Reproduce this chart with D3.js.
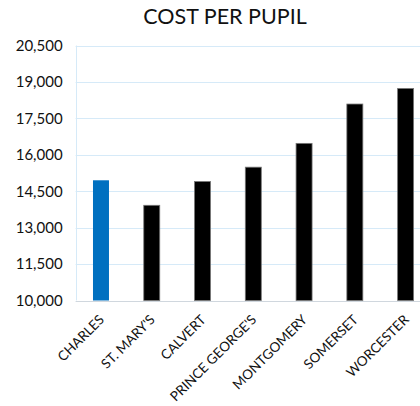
<!DOCTYPE html>
<html>
<head>
<meta charset="utf-8">
<script src="https://cdn.jsdelivr.net/npm/d3@7"></script>
<style>
  html, body { margin: 0; padding: 0; background: #fff; }
  svg { display: block; font-family: Lato, "Open Sans", sans-serif; }
</style>
</head>
<body>
<svg id="chart" width="420" height="406"></svg>
<script>
// Cost per pupil by county
const counties = ["CHARLES", "ST. MARY'S", "CALVERT", "PRINCE GEORGE'S", "MONTGOMERY", "SOMERSET", "WORCESTER"];
const costs = [14950, 13920, 14900, 15490, 16470, 18090, 18730];
const highlighted = ["CHARLES"];
const yTicks = [10000, 11500, 13000, 14500, 16000, 17500, 19000, 20500];

const svg = d3.select("#chart");
const margin = { left: 75.6, top: 45.5, bottom: 300.5, right: 431 };

const x = d3.scaleBand()
  .domain(counties)
  .range([margin.left, margin.right])
  .paddingInner(0.685)
  .paddingOuter(0.3425);

const y = d3.scaleLinear()
  .domain([10000, 20500])
  .range([margin.bottom, margin.top]);

// Title
svg.append("text")
  .attr("x", 225)
  .attr("y", 24)
  .attr("text-anchor", "middle")
  .attr("font-size", 21.5)
  .attr("fill", "#111")
  .text("COST PER PUPIL");

// Horizontal gridlines
svg.append("g")
  .selectAll("line")
  .data(yTicks.slice(1))
  .join("line")
  .attr("x1", margin.left)
  .attr("x2", 420)
  .attr("y1", d => Math.round(y(d)) + 0.5)
  .attr("y2", d => Math.round(y(d)) + 0.5)
  .attr("stroke", "#d6eaf8")
  .attr("stroke-width", 1);

// Left vertical line
svg.append("line")
  .attr("x1", Math.round(margin.left) + 0.5)
  .attr("x2", Math.round(margin.left) + 0.5)
  .attr("y1", y(20500))
  .attr("y2", y(10000))
  .attr("stroke", "#d6eaf8");

// Y axis labels
const yAxis = d3.axisLeft(y)
  .tickValues(yTicks)
  .tickSize(0)
  .tickPadding(13)
  .tickFormat(d3.format(","));
const gy = svg.append("g")
  .attr("transform", `translate(${margin.left},0)`)
  .call(yAxis);
gy.select(".domain").remove();
gy.selectAll("text")
  .attr("font-size", 15)
  .attr("font-family", "Lato, sans-serif")
  .attr("fill", "#111");

// Bars
svg.append("g")
  .selectAll("rect")
  .data(counties.map((c, i) => ({ c, v: costs[i] })))
  .join("rect")
  .attr("x", d => x(d.c))
  .attr("y", d => y(d.v))
  .attr("width", x.bandwidth())
  .attr("height", d => y(10000) - y(d.v))
  .attr("fill", d => highlighted.includes(d.c) ? "#0070c0" : "#000")
  .attr("stroke", d => highlighted.includes(d.c) ? "none" : "#777")
  .attr("stroke-width", 0.8);

// Baseline
svg.append("line")
  .attr("x1", margin.left)
  .attr("x2", 420)
  .attr("y1", Math.round(y(10000)) + 0.5)
  .attr("y2", Math.round(y(10000)) + 0.5)
  .attr("stroke", "#d0d7de")
  .attr("stroke-width", 1.2);

// X axis category labels, rotated
const xAxis = d3.axisBottom(x).tickSize(0).tickPadding(0);
const gx = svg.append("g")
  .attr("transform", `translate(0,${margin.bottom})`)
  .call(xAxis);
gx.select(".domain").remove();
gx.selectAll("text")
  .attr("font-size", 13.5)
  .attr("font-family", "Lato, sans-serif")
  .attr("fill", "#111")
  .attr("text-anchor", "end")
  .attr("dy", "0")
  .attr("transform", "translate(4,20) rotate(-45)");
</script>
</body>
</html>
